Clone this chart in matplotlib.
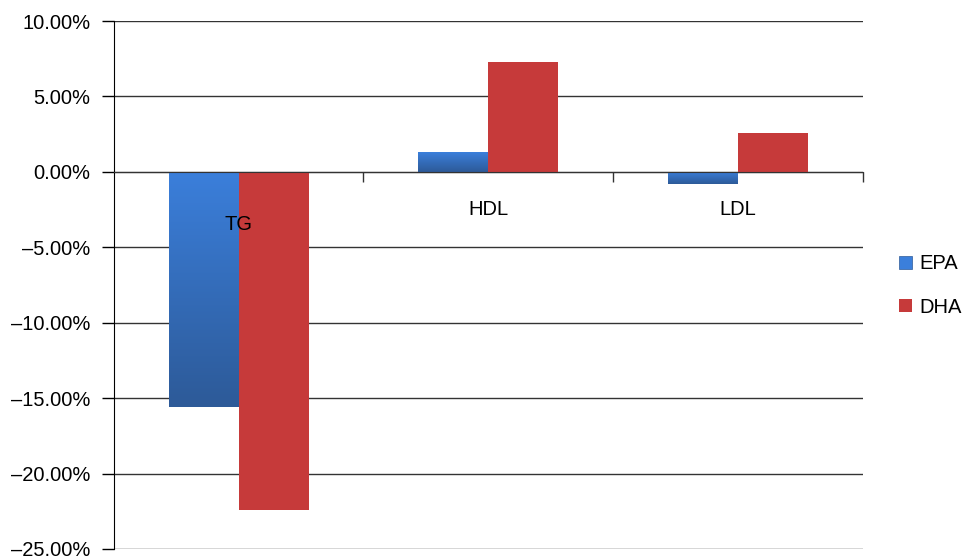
import matplotlib.pyplot as plt
import numpy as np
from matplotlib.colors import LinearSegmentedColormap
from matplotlib.patches import Patch

plt.rcParams['font.family'] = ['Liberation Sans', 'DejaVu Sans']

# Dados (variação %)
categorias = ["TG", "HDL", "LDL"]
epa = [-15.6, 1.3, -0.8]
dha = [-22.4, 7.3, 2.6]
series = ["EPA", "DHA"]
rotulo_y = [-3.5, -2.5, -2.5]  # posição vertical dos rótulos das categorias

azul_claro = "#3b7fdb"
azul_escuro = "#2d5a98"
vermelho = "#c63a3a"
fs = 14.5

fig = plt.figure(figsize=(9.65, 5.56), dpi=100)
ax = fig.add_axes([0.118, 0.0126, 0.776, 0.9496])

x = np.arange(len(categorias)) + 0.5
w = 0.28

barras_epa = ax.bar(x - w / 2, epa, w, color=azul_claro, zorder=3, linewidth=0)
ax.bar(x + w / 2, dha, w, color=vermelho, zorder=3, linewidth=0)

# gradiente vertical nas barras azuis
cmap = LinearSegmentedColormap.from_list("grad", [azul_escuro, azul_claro])
grad = np.linspace(0, 1, 256).reshape(-1, 1)
for b in barras_epa:
    x0, y0 = b.get_x(), b.get_y()
    x1, y1 = x0 + b.get_width(), y0 + b.get_height()
    im = ax.imshow(grad, cmap=cmap, origin="lower", aspect="auto",
                   extent=[x0, x1, min(y0, y1), max(y0, y1)], zorder=4)
    im.set_clip_path(b)

ax.set_xlim(0, 3)
ax.set_ylim(-25, 10)
ax.set_yticks(np.arange(-25, 11, 5))
ax.set_yticklabels([f"{v:.2f}%".replace("-", "\u2013") for v in np.arange(-25, 11, 5)])
ax.grid(axis="y", color="#333333", linewidth=1, zorder=1)
ax.tick_params(axis="y", length=9, width=1, labelsize=fs, pad=8, color="black")

# eixo x na linha do zero
ax.spines["bottom"].set_position(("data", 0))
ax.spines["top"].set_visible(False)
ax.spines["right"].set_visible(False)
ax.spines["left"].set_color("black")
ax.spines["bottom"].set_color("#333333")
ax.spines["bottom"].set_zorder(5)
ax.set_xticks([1, 2, 3])
ax.set_xticklabels([])
ax.tick_params(axis="x", length=7, width=1, direction="out", color="#333333")

for xi, cat, yl in zip(x, categorias, rotulo_y):
    ax.text(xi, yl, cat, ha="center", va="center", fontsize=fs, zorder=6)

handles = [Patch(facecolor=azul_claro, edgecolor=azul_escuro, linewidth=0.5),
           Patch(facecolor=vermelho)]
fig.legend(handles, series, loc="center left", bbox_to_anchor=(0.932, 0.4865),
           frameon=False, fontsize=fs, handlelength=0.65, handleheight=0.65,
           handletextpad=0.35, labelspacing=1.2, borderaxespad=0, borderpad=0)

fig.savefig("out.png", dpi=100)
